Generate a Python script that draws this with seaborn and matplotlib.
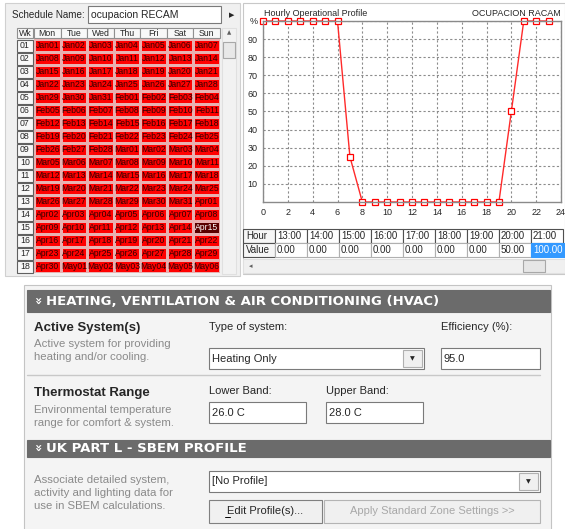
import numpy as np
import pandas as pd
import seaborn as sns
import matplotlib.pyplot as plt
from matplotlib.patches import Rectangle
from matplotlib.colors import ListedColormap

# data
schedule_name = "ocupacion RECAM"
profile_name = "OCUPACION RACAM"
hours = list(range(24))
occupancy = [100, 100, 100, 100, 100, 100, 100, 25, 0, 0, 0, 0,
             0, 0, 0, 0, 0, 0, 0, 0, 50, 100, 100, 100]
weeks = [f"{i:02d}" for i in range(1, 19)]
days = ["Mon", "Tue", "Wed", "Thu", "Fri", "Sat", "Sun"]
selected_day = "Apr15"
table_hours = ["13:00", "14:00", "15:00", "16:00", "17:00", "18:00", "19:00", "20:00", "21:00"]
table_values = [0.00, 0.00, 0.00, 0.00, 0.00, 0.00, 0.00, 50.00, 100.00]

# calendar labels (Mon 01 Jan onwards)
dates = pd.date_range("2018-01-01", periods=len(weeks) * 7).strftime("%b%d")
date_labels = np.array(dates).reshape(len(weeks), 7)
is_selected = (date_labels == selected_day).astype(int)

sns.set_style("white")
plt.rcParams["font.family"] = ["Liberation Sans", "DejaVu Sans"]

W, H = 565, 529
fig = plt.figure(figsize=(W / 100, H / 100), dpi=100)
fig.patch.set_facecolor("white")

# pixel canvas for the window chrome
bg = fig.add_axes([0, 0, 1, 1])
bg.set_xlim(0, W)
bg.set_ylim(H, 0)
bg.axis("off")


def px_axes(x, y, w, h):
    return fig.add_axes([x / W, 1 - (y + h) / H, w / W, h / H])


def rect(x, y, w, h, fc="none", ec="none", lw=0.8):
    bg.add_patch(Rectangle((x, y), w, h, facecolor=fc, edgecolor=ec, linewidth=lw))


def txt(x, y, s, size=7.5, **kw):
    kw.setdefault("va", "center")
    bg.text(x, y, s, fontsize=size, **kw)


# ---- left: schedule calendar ----
rect(5, 3, 235, 273, "#f0f0f0", "#d0d0d0")
txt(12, 15, "Schedule Name:", 7.1)
rect(88, 6, 133, 17, "white", "#7a7a7a")
txt(91, 15, schedule_name, 7.5)
txt(229, 15, "\u25b6", 5, family="DejaVu Sans")

day_w = 186 / 7
rect(17, 28, 16, 10, "#f8f8f8", "#909090")
txt(25, 33, "Wk", 6.3, ha="center")
for j, d in enumerate(days):
    rect(34 + j * day_w, 28, day_w, 10, "#f8f8f8", "#909090")
    txt(34 + j * day_w + day_w / 2, 33, d, 6.3, ha="center")
for i, wk in enumerate(weeks):
    rect(17, 39 + i * 13 + 0.5, 16, 12, "#f8f8f8", "#606060")
    txt(25, 39 + i * 13 + 6.5, wk, 6.3, ha="center")

ax_cal = px_axes(34, 39, 186, 234)
sns.heatmap(is_selected, ax=ax_cal, cmap=ListedColormap(["#ff0000", "#5a0000"]),
            vmin=0, vmax=1, cbar=False, annot=date_labels, fmt="",
            linewidths=0.9, linecolor="#e8b0b0",
            annot_kws={"fontsize": 6.2, "color": "#300000"})
for t in ax_cal.texts:
    if t.get_text() == selected_day:
        t.set_color("white")
ax_cal.set_xticks([])
ax_cal.set_yticks([])
ax_cal.set_xlabel("")
ax_cal.set_ylabel("")

rect(222, 28, 14, 246, "#f2f2f2", "#e0e0e0")
txt(229, 33, "\u25b2", 4, ha="center", color="#606060", family="DejaVu Sans")
rect(223, 42, 12, 16, "#e8e8e8", "#a8a8a8")

# ---- right: hourly profile ----
rect(243, 3, 322, 271, "white", "#c8c8c8")
ax = px_axes(263, 21, 298, 181)
sns.lineplot(x=hours, y=occupancy, ax=ax, color="#ff2a2a", linewidth=1,
             marker="s", markersize=4, markerfacecolor="white",
             markeredgecolor="#ff0000", markeredgewidth=0.9, clip_on=False)
ax.set_xlim(0, 24)
ax.set_ylim(0, 100)
ax.set_xticks(range(0, 25, 2))
ax.set_yticks(range(10, 101, 10))
ax.set_yticklabels([str(v) for v in range(10, 100, 10)] + ["%"])
ax.tick_params(length=0, labelsize=6.5, pad=4)
ax.grid(True, linestyle=(0, (2, 2)), color="#8c8c8c", linewidth=0.8)
for s in ax.spines.values():
    s.set_color("#8a8a8a")
    s.set_linewidth(1)
ax.set_xlabel("")
ax.set_ylabel("")
txt(264, 14, "Hourly Operational Profile", 6.5)
txt(561, 14, profile_name, 6.5, ha="right")

# hour/value table
rect(243, 229, 32, 14, "#f6f6f6", "#505050")
txt(246, 236, "Hour", 7)
rect(243, 243, 32, 14, "#f6f6f6", "#505050")
txt(246, 250, "Value", 7)
for j, (hh, v) in enumerate(zip(table_hours, table_values)):
    x = 275 + j * 32
    rect(x, 229, 32, 14, "white", "#505050")
    txt(x + 2, 236, hh, 7)
    if j == len(table_hours) - 1:
        rect(x, 243, 34, 14, "#3399ff", "#3399ff")
        txt(x + 2, 250, f"{v:.2f}", 7, color="white")
    else:
        rect(x, 243, 32, 14, "white", "#b0b0b0")
        txt(x + 2, 250, f"{v:.2f}", 7)
rect(243, 259, 322, 14, "#f0f0f0", "#e0e0e0")
txt(249, 266, "\u25c2", 5, color="#606060", family="DejaVu Sans")
rect(523, 260, 22, 12, "#e6e6e6", "#a8a8a8")

# ---- bottom: HVAC panel ----
rect(24, 285, 527, 250, "#f4f4f4", "#c4c4c4")
grey = "#8a8a8a"


def header(y, h, label):
    rect(27, y, 523, h, "#6b6b6b", "#6b6b6b")
    txt(37, y + h / 2, "\u00bb", 9, color="white", ha="center", rotation=-90,
        family="DejaVu Sans", fontweight="bold")
    txt(46, y + h / 2 + 0.5, label, 9.5, color="white", fontweight="bold",
        family="DejaVu Sans")


def field(x, y, w, h, s, arrow=False):
    rect(x, y, w, h, "white", "#7a7a7a")
    txt(x + 3, y + h / 2, s, 8)
    if arrow:
        rect(x + w - 21, y + 2, 19, h - 4, "#f0f0f0", "#b0b0b0")
        txt(x + w - 11.5, y + h / 2, "\u25bc", 4.5, ha="center", family="DejaVu Sans")


header(290, 22, "HEATING, VENTILATION & AIR CONDITIONING (HVAC)")
txt(34, 328, "Active System(s)", 9.5, fontweight="bold")
txt(34, 344, "Active system for providing", 8.2, color=grey)
txt(34, 357, "heating and/or cooling.", 8.2, color=grey)
txt(209, 327, "Type of system:", 8)
field(209, 348, 215, 21, "Heating Only", arrow=True)
txt(441, 327, "Efficiency (%):", 8)
field(441, 348, 99, 21, "95.0")
bg.plot([27, 540], [375, 375], color="#c8c8c8", lw=1)

txt(34, 393, "Thermostat Range", 9.5, fontweight="bold")
txt(34, 410, "Environmental temperature", 8.2, color=grey)
txt(34, 423, "range for comfort & system.", 8.2, color=grey)
txt(209, 391, "Lower Band:", 8)
txt(326, 391, "Upper Band:", 8)
field(209, 402, 97, 21, "26.0 C")
field(326, 402, 97, 21, "28.0 C")

header(440, 17, "UK PART L - SBEM PROFILE")
txt(34, 480, "Associate detailed system,", 8.2, color=grey)
txt(34, 493, "activity and lighting data for", 8.2, color=grey)
txt(34, 506, "use in SBEM calculations.", 8.2, color=grey)
field(209, 471, 331, 21, "[No Profile]", arrow=True)
rect(209, 500, 113, 23, "#f0f0f0", "#808080")
txt(265.5, 511, "Edit Profile(s)...", 8, ha="center")
bg.plot([224.5, 230], [517, 517], color="black", lw=0.7)
rect(324, 500, 216, 23, "#f0f0f0", "#b4b4b4")
txt(432, 511, "Apply Standard Zone Settings >>", 8, ha="center", color="#a8a8a8")

fig.savefig("out.png", dpi=100)
